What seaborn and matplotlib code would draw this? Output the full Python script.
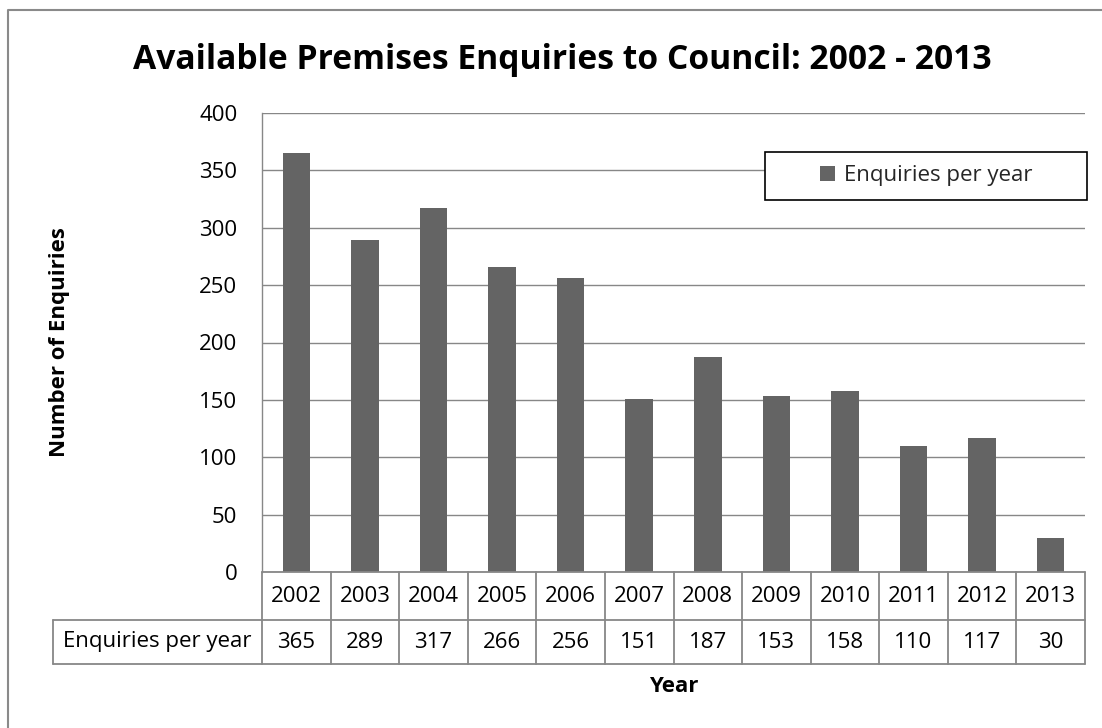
import matplotlib
matplotlib.use("Agg")
import matplotlib.pyplot as plt
import matplotlib.transforms as mtransforms
from matplotlib.lines import Line2D
from matplotlib.patches import Rectangle, Patch
import pandas as pd
import seaborn as sns

# ---- data -------------------------------------------------------------
years = ["2002", "2003", "2004", "2005", "2006", "2007",
         "2008", "2009", "2010", "2011", "2012", "2013"]
enquiries = [365, 289, 317, 266, 256, 151, 187, 153, 158, 110, 117, 30]
series_name = "Enquiries per year"
title_text = "Available Premises Enquiries to Council: 2002 - 2013"
y_label = "Number of Enquiries"
x_label = "Year"
y_ticks = [0, 50, 100, 150, 200, 250, 300, 350, 400]

# ---- style ------------------------------------------------------------
sns.set_style("white")
plt.rcParams["font.family"] = ["Open Sans", "DejaVu Sans"]

BAR = "#646464"
GRID = "#878787"
TXT = "#000000"
FS = 16

W, H = 1102, 728
fig = plt.figure(figsize=(W / 100, H / 100), dpi=100)


def fx(px):
    return px / W


def fy(py):
    return 1 - py / H


# plot area in pixel terms
L, R, T, B = 262, 1085, 113, 572
ax = fig.add_axes([fx(L), fy(B), fx(R) - fx(L), fy(T) - fy(B)])

df = pd.DataFrame({"Year": years, "Enquiries": enquiries})
sns.barplot(data=df, x="Year", y="Enquiries", color=BAR, saturation=1,
            width=0.4, linewidth=0, ax=ax, zorder=3)

ax.set_xlim(-0.5, len(years) - 0.5)
ax.set_ylim(y_ticks[0], y_ticks[-1])
ax.set_yticks(y_ticks)
ax.set_yticklabels([str(v) for v in y_ticks])
ax.set_xticks([])
ax.set_xlabel("")
ax.set_ylabel("")
ax.yaxis.grid(True, color=GRID, linewidth=1.0, zorder=0)
ax.set_axisbelow(True)
for side in ("top", "right", "bottom"):
    ax.spines[side].set_visible(False)
ax.spines["left"].set_color(GRID)
ax.spines["left"].set_linewidth(1.0)
ax.tick_params(axis="y", direction="out", length=5.8, width=1.0,
               color=GRID, labelsize=FS, labelcolor=TXT, pad=12)

# ---- data table under the plot ---------------------------------------
trans = mtransforms.blended_transform_factory(ax.transData, ax.transAxes)
ax_h = B - T
col_px = (R - L) / len(years)
row1_bot = -(620 - B) / ax_h
row2_bot = -(664 - B) / ax_h
left_x = -0.5 - (L - 53) / col_px
right_x = len(years) - 0.5

line_kw = dict(color=GRID, linewidth=1.3, transform=trans, clip_on=False,
               zorder=4)
ax.add_line(Line2D([-0.5, right_x], [0, 0], **line_kw))
ax.add_line(Line2D([left_x, right_x], [row1_bot, row1_bot], **line_kw))
ax.add_line(Line2D([left_x, right_x], [row2_bot, row2_bot], **line_kw))
ax.add_line(Line2D([left_x, left_x], [row2_bot, row1_bot], **line_kw))
for i in range(len(years) + 1):
    xb = i - 0.5
    ax.add_line(Line2D([xb, xb], [row2_bot, 0], **line_kw))

for i, (yr, v) in enumerate(zip(years, enquiries)):
    ax.text(i, row1_bot / 2, yr, ha="center", va="center", fontsize=FS,
            color=TXT, transform=trans, clip_on=False)
    ax.text(i, (row1_bot + row2_bot) / 2, str(v), ha="center", va="center",
            fontsize=FS, color=TXT, transform=trans, clip_on=False)
ax.text((left_x - 0.5) / 2, (row1_bot + row2_bot) / 2, series_name,
        ha="center", va="center", fontsize=FS, color=TXT, transform=trans,
        clip_on=False)

# ---- legend -------------------------------------------------------------
lx0, lx1, ly0, ly1 = 765, 1087, 152, 200
fig.add_artist(Rectangle((fx(lx0), fy(ly1)), fx(lx1) - fx(lx0),
                         fy(ly0) - fy(ly1), transform=fig.transFigure,
                         facecolor="white", edgecolor="black",
                         linewidth=1.2, zorder=2))
handle = Patch(facecolor=BAR, edgecolor="none", label=series_name)
fig.legend(handles=[handle], loc="center",
           bbox_to_anchor=(fx((lx0 + lx1) / 2), fy((ly0 + ly1) / 2)),
           bbox_transform=fig.transFigure, frameon=False, fontsize=FS,
           handlelength=0.68, handleheight=0.68, handletextpad=0.4,
           borderpad=0, borderaxespad=0).set_zorder(6)

# ---- titles -------------------------------------------------------------
fig.text(fx(562), fy(60), title_text, ha="center", va="center",
         fontsize=24.2, fontweight="bold", color=TXT)
fig.text(fx(60), fy((T + B) / 2), y_label, ha="center", va="center",
         rotation=90, fontsize=FS, fontweight="bold", color=TXT)
fig.text(fx((L + R) / 2), fy(686), x_label, ha="center", va="center",
         fontsize=FS, fontweight="bold", color=TXT)

# ---- chart-area frame -----------------------------------------------------
fig.add_artist(Line2D([fx(8), fx(8), 1.0], [0.0, fy(10), fy(10)],
                      transform=fig.transFigure, color="#8a8a8a",
                      linewidth=1.5))

fig.savefig("out.png", dpi=100)
